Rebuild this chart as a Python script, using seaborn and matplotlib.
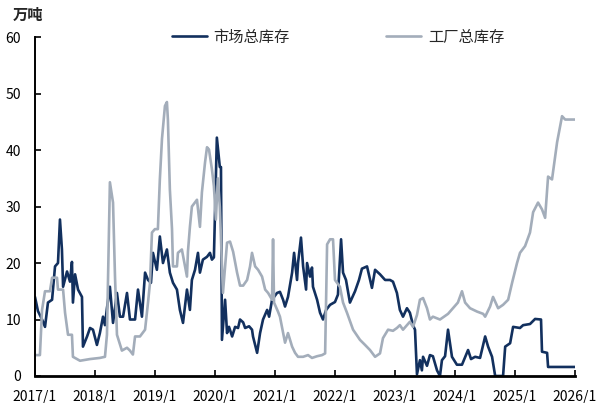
import pandas as pd
import seaborn as sns
from matplotlib import pyplot as plt

# 市场总库存 (万吨)
market_dates = [
    "2017-01-01", "2017-01-19", "2017-02-13", "2017-03-03", "2017-03-21", "2017-04-15",
    "2017-05-03", "2017-05-21", "2017-06-02", "2017-06-14", "2017-06-21", "2017-07-15",
    "2017-08-02", "2017-08-14", "2017-08-20", "2017-09-02", "2017-09-20", "2017-10-14",
    "2017-10-20", "2017-11-14", "2017-12-02", "2017-12-20",
    "2018-01-13", "2018-01-31", "2018-02-19", "2018-03-03", "2018-03-15", "2018-04-02",
    "2018-04-21", "2018-05-15", "2018-06-02", "2018-06-21", "2018-07-15", "2018-08-02",
    "2018-09-02", "2018-09-20", "2018-10-14", "2018-11-02", "2018-11-20", "2018-12-08",
    "2018-12-20",
    "2019-01-13", "2019-01-31", "2019-02-19", "2019-03-15", "2019-04-02", "2019-04-21",
    "2019-05-15", "2019-06-02", "2019-06-21", "2019-07-15", "2019-08-02", "2019-08-14",
    "2019-09-02", "2019-09-20", "2019-10-02", "2019-10-20", "2019-11-14", "2019-12-02",
    "2019-12-14", "2019-12-26",
    "2020-01-13", "2020-01-31", "2020-02-07", "2020-02-13", "2020-03-03", "2020-03-15",
    "2020-03-27", "2020-04-15", "2020-05-03", "2020-05-21", "2020-06-02", "2020-06-21",
    "2020-07-03", "2020-07-27", "2020-08-14", "2020-08-20", "2020-09-14", "2020-10-02",
    "2020-10-20", "2020-11-14", "2020-11-26", "2020-12-14",
    "2021-01-13", "2021-01-31", "2021-02-19", "2021-03-03", "2021-03-21", "2021-04-15",
    "2021-04-27", "2021-05-15", "2021-05-21", "2021-06-08", "2021-06-21", "2021-07-09",
    "2021-07-15", "2021-08-02", "2021-08-14", "2021-08-20", "2021-09-14", "2021-10-02",
    "2021-10-20", "2021-11-08", "2021-12-02",
    "2022-01-01", "2022-01-19", "2022-02-07", "2022-02-19", "2022-03-09", "2022-04-02",
    "2022-05-03", "2022-05-27", "2022-06-14", "2022-07-15", "2022-08-14", "2022-09-02",
    "2022-10-02", "2022-11-02", "2022-12-02", "2022-12-20",
    "2023-01-13", "2023-01-31", "2023-02-19", "2023-03-15", "2023-04-02", "2023-04-21",
    "2023-05-03", "2023-05-15", "2023-06-02", "2023-06-14", "2023-06-21", "2023-07-15",
    "2023-08-02", "2023-08-20", "2023-09-14", "2023-10-02", "2023-10-14", "2023-11-02",
    "2023-11-20", "2023-12-14",
    "2024-01-13", "2024-02-13", "2024-03-21", "2024-04-08", "2024-05-03", "2024-06-02",
    "2024-07-03", "2024-07-21", "2024-08-14", "2024-09-02", "2024-10-20", "2024-11-02",
    "2024-12-02", "2024-12-20",
    "2025-01-31", "2025-02-19", "2025-04-02", "2025-05-03", "2025-06-08", "2025-06-14",
    "2025-07-15", "2025-07-21", "2026-01-01",
]
market_vals = [
    14, 11.5, 10, 8.7, 13, 13.5,
    19.4, 20, 27.7, 22.4, 15.8, 18.5,
    16.7, 20.2, 13, 18, 15.3, 14,
    5.2, 7, 8.5, 8.2,
    5.5, 7.6, 10.5, 9, 12, 15.8,
    9.4, 14.7, 10.5, 10.5, 14.7, 10,
    10, 15.3, 10.5, 18.3, 17, 16.5,
    21.8,
    18.8, 24.7, 20, 22.4, 18.3, 16.5,
    15.3, 11.7, 9.4, 15.3, 11.7, 17,
    18.8, 21.8, 18.3, 20.6, 21.1, 21.8,
    20.6, 21,
    42.2, 37, 37, 6.4, 13.5, 7.6,
    8.7, 7, 8.7, 8.5, 10, 9.5,
    8.5, 8.8, 8.2, 7, 4.1, 7.6,
    10, 11.7, 10.5, 13.5,
    14.7, 14.9, 13.5, 12.3, 14, 18.3,
    21.8, 17, 20, 24.5, 19.4, 15.3,
    20, 17.6, 19.2, 15.8, 13.5, 11.2,
    10, 11.7, 12.6,
    13.1, 14.4, 24.2, 18.3, 17, 13,
    15, 17, 19, 19.4, 15.6, 18.8,
    18, 17, 17, 16.7,
    14.7, 11.7, 10.5, 12, 11.2, 9,
    8.2, 0.3, 2.8, 1, 3.4, 1.8,
    3.7, 3.5, 1, 0, 2.8, 3.5,
    8.2, 3.4,
    2, 2, 4.6, 3, 3.4, 3.2,
    7, 5.2, 3.4, 0, 0, 5.2,
    5.8, 8.7,
    8.5, 9, 9.2, 10.1, 10, 4.3,
    4.1, 1.6, 1.6,
]

# 工厂总库存 (万吨)
factory_dates = [
    "2017-01-01", "2017-01-31", "2017-02-13", "2017-03-03", "2017-04-02", "2017-04-15",
    "2017-05-15", "2017-05-21", "2017-06-21", "2017-07-03", "2017-07-21", "2017-08-14",
    "2017-08-20", "2017-10-02", "2017-12-02",
    "2018-01-31", "2018-03-03", "2018-03-15", "2018-04-02", "2018-04-21", "2018-05-03",
    "2018-05-15", "2018-06-14", "2018-07-15", "2018-08-02", "2018-08-20", "2018-09-02",
    "2018-10-02", "2018-11-02", "2018-11-20", "2018-12-02", "2018-12-14",
    "2019-01-01", "2019-01-19", "2019-01-31", "2019-02-13", "2019-03-03", "2019-03-15",
    "2019-03-21", "2019-04-02", "2019-04-15", "2019-04-21", "2019-05-15", "2019-05-21",
    "2019-06-14", "2019-07-03", "2019-07-15", "2019-07-21", "2019-08-02", "2019-08-14",
    "2019-09-14", "2019-10-02", "2019-10-14", "2019-11-02", "2019-11-14", "2019-11-26",
    "2019-12-14", "2019-12-26",
    "2020-01-07", "2020-01-19", "2020-01-31", "2020-02-19", "2020-03-15", "2020-04-02",
    "2020-04-21", "2020-05-15", "2020-06-02", "2020-06-21", "2020-07-15", "2020-08-02",
    "2020-08-14", "2020-09-02", "2020-09-20", "2020-10-14", "2020-11-02", "2020-11-20",
    "2020-12-14", "2020-12-20", "2020-12-26",
    "2021-01-19", "2021-01-31", "2021-03-03", "2021-03-21", "2021-04-15", "2021-05-03",
    "2021-05-21", "2021-06-21", "2021-07-21", "2021-08-14", "2021-09-14", "2021-10-14",
    "2021-11-02", "2021-11-14", "2021-12-02", "2021-12-20",
    "2022-01-01", "2022-01-31", "2022-02-19", "2022-03-15", "2022-04-21", "2022-06-02",
    "2022-07-03", "2022-08-02", "2022-09-02", "2022-10-02", "2022-10-20", "2022-11-20",
    "2022-12-20",
    "2023-01-13", "2023-01-31", "2023-02-19", "2023-03-15", "2023-04-02", "2023-04-21",
    "2023-05-15", "2023-06-02", "2023-06-21", "2023-07-15", "2023-08-02", "2023-08-20",
    "2023-10-02", "2023-11-20", "2023-12-20",
    "2024-01-19", "2024-02-13", "2024-03-03", "2024-04-02", "2024-05-15", "2024-06-21",
    "2024-07-03", "2024-08-02", "2024-08-20", "2024-09-20", "2024-10-20", "2024-11-20",
    "2024-12-14",
    "2025-01-13", "2025-01-31", "2025-03-03", "2025-04-02", "2025-04-21", "2025-05-21",
    "2025-06-14", "2025-07-03", "2025-07-21", "2025-08-14", "2025-09-14", "2025-10-14",
    "2025-11-02", "2026-01-01",
]
factory_vals = [
    3.7, 3.7, 11.7, 15, 15, 17.4,
    17.4, 15.3, 15.3, 11.2, 7.3, 7.3,
    3.4, 2.7, 3,
    3.2, 3.4, 7.3, 34.3, 30.7, 17.6,
    7.3, 4.5, 5, 4.5, 3.8, 7,
    7, 8.2, 13, 16.5, 25.4,
    26, 26, 34.8, 42, 47.8, 48.5,
    45.4, 33, 26, 19.4, 19.4, 21.8,
    22.4, 19.4, 17.6, 22, 26.4, 30,
    31.2, 26.4, 32.5, 37.8, 40.5, 40.1,
    36.6, 33.6,
    27.7, 35, 30, 14.7, 23.6, 23.8,
    22, 18.3, 16, 16, 17, 19.4,
    21.8, 19.4, 18.8, 17.6, 15.3, 14.7,
    13.5, 24.2, 13,
    11.4, 10.5, 5.9, 7.6, 5.2, 4.1,
    3.4, 3.4, 3.7, 3.2, 3.5, 3.7,
    4, 23.3, 24.2, 24.2,
    17, 15.8, 13, 11.2, 8.2, 6.4,
    5.5, 4.6, 3.4, 4, 6.7, 8.2,
    8,
    8.5, 9, 8.2, 9, 9.6, 8.7,
    10.8, 13.5, 13.8, 12, 10, 10.5,
    10, 11, 12,
    13, 15, 13, 12, 11.4, 11,
    10.5, 12.3, 14, 12, 12.6, 13.5,
    16.5,
    20, 21.8, 23, 25.4, 29, 30.7,
    29.5, 28, 35.3, 34.8, 41.4, 46,
    45.4, 45.4,
]

series_names = ["市场总库存", "工厂总库存"]
series_colors = ["#12305e", "#a3adba"]
year_ticks = list(range(2017, 2027))

df = pd.concat([
    pd.DataFrame({"date": pd.to_datetime(market_dates), "value": market_vals, "series": series_names[0]}),
    pd.DataFrame({"date": pd.to_datetime(factory_dates), "value": factory_vals, "series": series_names[1]}),
])

sns.set_style("ticks")
plt.rcParams["font.family"] = ["Noto Sans CJK SC", "DejaVu Sans"]

fig = plt.figure(figsize=(5.96, 4.03), dpi=100)
ax = fig.add_axes([0.0587, 0.067, 0.9061, 0.841])

sns.lineplot(data=df, x="date", y="value", hue="series", hue_order=series_names,
             palette=series_colors, linewidth=1.9, ax=ax, estimator=None, sort=False)

# axes look
ax.set_xlim(pd.Timestamp("2017-01-01"), pd.Timestamp("2026-01-01"))
ax.set_ylim(0, 60)
ax.set_yticks(range(0, 61, 10))
ax.set_xticks([pd.Timestamp(f"{y}-01-01") for y in year_ticks])
ax.set_xticklabels([f"{y}/1" for y in year_ticks])
ax.set_xlabel("")
ax.set_ylabel("")
for side in ["top", "right"]:
    ax.spines[side].set_visible(False)
ax.spines["left"].set_linewidth(1.4)
ax.spines["bottom"].set_linewidth(2.0)
ax.spines["left"].set_color("black")
ax.spines["bottom"].set_color("black")
ax.tick_params(axis="both", direction="in", length=4, width=1.2, colors="black",
               labelsize=10, labelcolor="black")
ax.tick_params(axis="y", pad=10)
ax.tick_params(axis="x", pad=10)

ax.legend(loc="center", bbox_to_anchor=(0.561, 1.0), ncol=2, frameon=False,
          fontsize=11, handlelength=2.3, handletextpad=0.45, columnspacing=6.3)

fig.text(0.022, 0.962, "万吨", fontsize=11, fontweight="bold", va="center", ha="left")

fig.savefig("out.png", dpi=100)
